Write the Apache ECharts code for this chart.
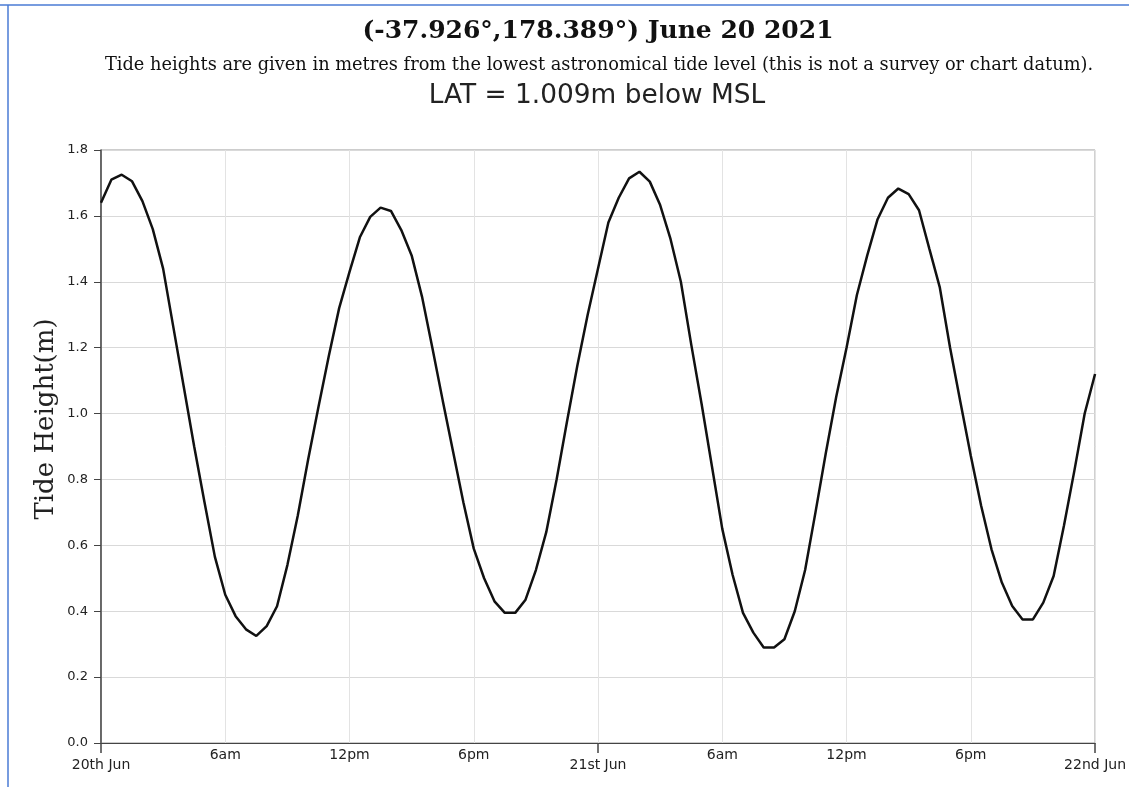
<!DOCTYPE html>
<html>
<head>
<meta charset="utf-8">
<script src="https://cdn.jsdelivr.net/npm/echarts@6/dist/echarts.min.js"></script>
<style>
  html, body { margin: 0; padding: 0; background: #fff; }
  #chart { width: 1129px; height: 787px; }
</style>
</head>
<body>
<div id="chart"></div>
<script>
// Tide heights (m above LAT) every 30 minutes
const heightsJun20 = [
  1.64, 1.71, 1.725, 1.705, 1.645, 1.56, 1.44, 1.26, 1.08, 0.90, 0.73, 0.565,
  0.45, 0.385, 0.345, 0.325, 0.355, 0.415, 0.54, 0.69, 0.86, 1.02, 1.175, 1.32,
  1.43, 1.535, 1.597, 1.625, 1.615, 1.557, 1.48, 1.355, 1.20, 1.04, 0.885, 0.73,
  0.59, 0.50, 0.43, 0.395, 0.395, 0.435, 0.525, 0.64, 0.80, 0.975, 1.145, 1.30
];
const heightsJun21 = [
  1.44, 1.58, 1.655, 1.714, 1.734, 1.704, 1.633, 1.53, 1.40, 1.21, 1.03, 0.84,
  0.65, 0.51, 0.395, 0.335, 0.29, 0.29, 0.315, 0.40, 0.525, 0.70, 0.88, 1.05,
  1.20, 1.36, 1.48, 1.59, 1.655, 1.683, 1.666, 1.617, 1.50, 1.384, 1.20, 1.034,
  0.872, 0.72, 0.588, 0.487, 0.416, 0.375, 0.375, 0.426, 0.507, 0.66, 0.826, 1.0,
  1.12
];
const sampleStepHours = 0.5;
const dayLabels = ['20th Jun', '21st Jun', '22nd Jun'];
const hourLabels = { 6: '6am', 12: '12pm', 18: '6pm' };

const titleText = '(-37.926°,178.389°) June 20 2021';
const subtitleText = 'Tide heights are given in metres from the lowest astronomical tide level (this is not a survey or chart datum).';
const latText = 'LAT = 1.009m below MSL';
const yAxisTitle = 'Tide Height(m)';

const heights = heightsJun20.concat(heightsJun21);
const seriesData = heights.map((v, i) => [i * sampleStepHours, v]);

const chart = echarts.init(document.getElementById('chart'), null, { renderer: 'canvas' });
chart.setOption({
  animation: false,
  backgroundColor: '#fff',
  graphic: [
    { type: 'line', shape: { x1: 0, y1: 5, x2: 1129, y2: 5 }, style: { stroke: '#4a7bd4', lineWidth: 1.5 } },
    { type: 'line', shape: { x1: 8, y1: 5, x2: 8, y2: 787 }, style: { stroke: '#4a7bd4', lineWidth: 1.5 } },
    { type: 'text', x: 598, y: 31, style: { text: titleText, font: 'bold 25px "DejaVu Serif"', fill: '#111', textAlign: 'center', textVerticalAlign: 'middle' } },
    { type: 'text', x: 599, y: 65, style: { text: subtitleText, font: '17.8px "DejaVu Serif"', fill: '#111', textAlign: 'center', textVerticalAlign: 'middle' } },
    { type: 'text', x: 597, y: 96, style: { text: latText, font: '26.4px "DejaVu Sans"', fill: '#222', textAlign: 'center', textVerticalAlign: 'middle' } },
    { type: 'text', x: 46, y: 419, rotation: Math.PI / 2, style: { text: yAxisTitle, font: '26px "DejaVu Serif"', fill: '#222', textAlign: 'center', textVerticalAlign: 'middle' } }
  ],
  grid: {
    left: 101, right: 33, top: 150, bottom: 44,
    show: true, borderColor: '#9a9a9a', borderWidth: 1, backgroundColor: 'transparent'
  },
  xAxis: [{
    type: 'value', min: 0, max: 48, interval: 6, position: 'bottom',
    axisLine: { show: true, lineStyle: { color: '#444', width: 1 } },
    axisTick: { show: false },
    splitLine: { show: true, lineStyle: { color: '#e3e3e3', width: 1 } },
    axisLabel: {
      margin: 5,
      color: '#222',
      fontFamily: 'DejaVu Sans',
      fontSize: 14,
      formatter: function (v) {
        if (v % 24 === 0) return '{d|' + dayLabels[v / 24] + '}';
        return '{h|' + hourLabels[v % 24] + '}';
      },
      rich: {
        d: { fontFamily: 'DejaVu Sans', fontSize: 14, color: '#222', padding: [10, 0, 0, 0] },
        h: { fontFamily: 'DejaVu Sans', fontSize: 14, color: '#222' }
      }
    }
  }, {
    type: 'value', min: 0, max: 48, interval: 24, position: 'bottom',
    axisLine: { show: false },
    axisTick: { show: true, length: 10, lineStyle: { color: '#444', width: 1.5 } },
    axisLabel: { show: false },
    splitLine: { show: false }
  }],
  yAxis: {
    type: 'value', min: 0, max: 1.8, interval: 0.2,
    axisLine: { show: true, lineStyle: { color: '#444', width: 1.5 } },
    axisTick: { show: true, length: 7, lineStyle: { color: '#444' } },
    splitLine: { show: true, lineStyle: { color: '#d9d9d9', width: 1 } },
    axisLabel: {
      margin: 13, color: '#222', fontFamily: 'DejaVu Sans', fontSize: 13,
      formatter: v => v.toFixed(1)
    }
  },
  series: [{
    type: 'line',
    xAxisIndex: 0,
    data: seriesData,
    showSymbol: false,
    smooth: false,
    lineStyle: { color: '#111', width: 2.5 },
    itemStyle: { color: '#111' }
  }]
});
</script>
</body>
</html>
